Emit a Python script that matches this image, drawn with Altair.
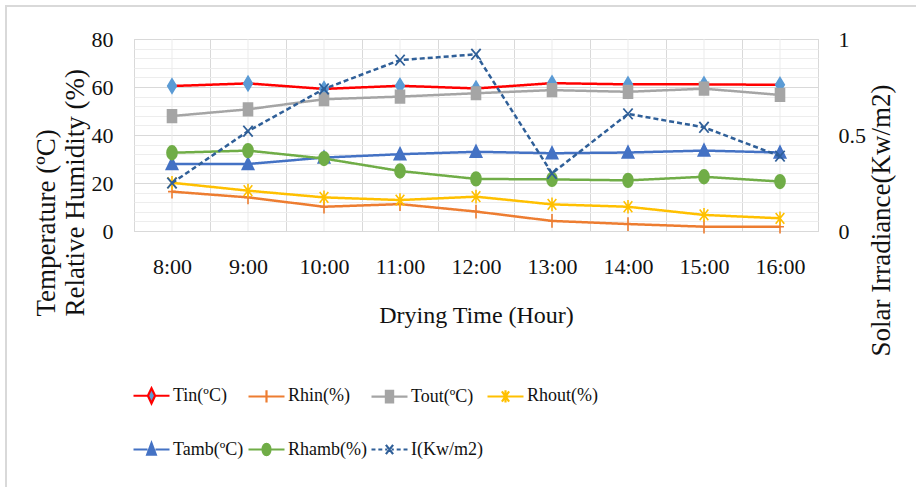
import altair as alt
import pandas as pd

# ---------------- data ----------------
times = ["8:00", "9:00", "10:00", "11:00", "12:00", "13:00", "14:00", "15:00", "16:00"]
series_names = ["Tin(ºC)", "Rhin(%)", "Tout(ºC)", "Rhout(%)", "Tamb(ºC)", "Rhamb(%)", "I(Kw/m2)"]

tin = [60.4, 61.5, 59.2, 60.5, 59.4, 61.6, 61.1, 61.1, 60.9]
rhin = [16.4, 14.0, 10.1, 11.2, 8.1, 4.2, 2.9, 1.8, 1.8]
tout = [47.9, 50.7, 54.9, 56.0, 57.4, 58.7, 58.0, 59.3, 56.7]
rhout = [20.1, 16.8, 14.0, 12.9, 14.3, 11.1, 10.1, 6.7, 5.3]
tamb = [27.9, 27.9, 30.6, 32.0, 33.0, 32.4, 32.7, 33.5, 32.7]
rhamb = [32.6, 33.5, 30.2, 25.0, 21.7, 21.5, 21.1, 22.6, 20.6]
irradiance = [0.25, 0.52, 0.74, 0.89, 0.92, 0.30, 0.61, 0.54, 0.39]

left_ticks = [0, 4, 8, 12, 16, 20, 24, 28, 32, 36, 40, 44, 48, 52, 56, 60, 64, 68, 72, 76, 80]
right_ticks = [0, 0.5, 1]

# ---------------- styles ----------------
line_colors = ["#FF0000", "#ED7D31", "#A5A5A5", "#FFC000", "#4472C4", "#70AD47", "#2F5F98"]
marker_colors = ["#5B9BD5", "#ED7D31", "#A5A5A5", "#FFC000", "#4472C4", "#70AD47", "#2F5F98"]
dashes = [[1, 0], [1, 0], [1, 0], [1, 0], [1, 0], [1, 0], [5, 3]]

# markers used on the plot (drawn at size 1296 -> 1 unit = 18 px)
marker_paths = [
    "M0,-0.4L0.24,0L0,0.4L-0.24,0Z",                          # diamond
    "M-0.22,0H0.22M0,-0.38V0.38",                             # plus
    "M-0.25,-0.35H0.25V0.35H-0.25Z",                          # square
    "M-0.24,-0.3L0.24,0.3M-0.24,0.3L0.24,-0.3M0,-0.38V0.38",  # asterisk
    "M0,-0.36L0.32,0.3H-0.32Z",                               # triangle
    "M-0.28,0A0.28,0.38 0 1,0 0.28,0A0.28,0.38 0 1,0 -0.28,0Z",  # circle
    "M-0.26,-0.3L0.26,0.3M-0.26,0.3L0.26,-0.3",               # x
]
# legend symbols: line segment + marker
solid_gap = "M-1,0H-0.22M0.22,0H1"
solid_full = "M-1,0H1"
dashed = "M-1,0H-0.78M-0.62,0H-0.4M-0.24,0H-0.12M0.12,0H0.24M0.4,0H0.62M0.78,0H1"
legend_paths = [
    solid_gap + "M0,-0.42L0.2,0L0,0.42L-0.2,0Z",
    solid_full + "M0,-0.34V0.34",
    solid_gap + "M-0.2,-0.32H0.2V0.32H-0.2Z",
    solid_full + "M-0.2,-0.28L0.2,0.28M-0.2,0.28L0.2,-0.28M0,-0.34V0.34",
    solid_gap + "M0,-0.36L0.24,0.28H-0.24Z",
    solid_gap + "M-0.22,0A0.22,0.32 0 1,0 0.22,0A0.22,0.32 0 1,0 -0.22,0Z",
    dashed + "M-0.2,-0.26L0.2,0.26M-0.2,0.26L0.2,-0.26",
]

FONT = "Liberation Serif"
TXT = "#111111"

values_by_series = [tin, rhin, tout, rhout, tamb, rhamb, irradiance]
rows = []
for name, vals in zip(series_names, values_by_series):
    for t, v in zip(times, vals):
        rows.append({"time": t, "series": name, "value": v,
                     "side": "right" if name == "I(Kw/m2)" else "left"})
df = pd.DataFrame(rows)
df_left = df[df.side == "left"]
df_right = df[df.side == "right"]

# ---------------- encodings ----------------
x_enc = alt.X(
    "time:N", bandPosition=0.5,
    scale=alt.Scale(type="band", domain=times, paddingInner=0, paddingOuter=0),
    axis=alt.Axis(title="Drying Time (Hour)", tickBand="extent", grid=True,
                  gridColor="#D9D9D9", gridWidth=1, ticks=False, tickSize=0,
                  domain=True, domainColor="#D9D9D9", labelAngle=0, labelPadding=25,
                  labelFontSize=22, labelFont=FONT, labelColor=TXT,
                  titleFontSize=24, titleFont=FONT, titleColor=TXT, titleFontWeight="normal",
                  titleY=84, titleBaseline="middle"),
)

y_left = alt.Y(
    "value:Q", scale=alt.Scale(domain=[0, 80], nice=False),
    axis=alt.Axis(values=left_ticks, labelExpr="datum.value % 20 === 0 ? datum.label : ''",
                  grid=True,
                  gridColor={"condition": {"test": "datum.value % 20 === 0", "value": "#D9D9D9"},
                             "value": "#EDEDED"},
                  ticks=False, tickSize=0, domain=False, labelPadding=21,
                  labelFontSize=22, labelFont=FONT, labelColor=TXT,
                  title=["Temperature (ºC)", "Relative Humidity (%)"],
                  titleFontSize=27, titleFont=FONT, titleColor=TXT, titleFontWeight="normal",
                  titleAngle=270, titleAlign="left", titleBaseline="top",
                  titleX=-101, titleY=277, titleLineHeight=29),
)

y_right = alt.Y(
    "value:Q", scale=alt.Scale(domain=[0, 1], nice=False),
    axis=alt.Axis(orient="right", values=right_ticks, format="~g", grid=False,
                  ticks=False, tickSize=0, domain=False, labelPadding=20,
                  labelFontSize=22, labelFont=FONT, labelColor=TXT,
                  title="Solar Irradiance(Kw/m2)",
                  titleFontSize=27, titleFont=FONT, titleColor=TXT, titleFontWeight="normal",
                  titleAngle=270, titleAlign="center", titleBaseline="top",
                  titleX=50, titleY=181),
)

color_enc = alt.Color("series:N", scale=alt.Scale(domain=series_names, range=line_colors),
                      legend=None)
dash_enc = alt.StrokeDash("series:N", scale=alt.Scale(domain=series_names, range=dashes),
                          legend=None)
fill_enc = alt.Fill("series:N", scale=alt.Scale(domain=series_names, range=marker_colors),
                    legend=None)
stroke_enc = alt.Stroke("series:N", scale=alt.Scale(domain=series_names, range=marker_colors),
                        legend=None)
shape_enc = alt.Shape("series:N", scale=alt.Scale(domain=series_names, range=marker_paths),
                      legend=None)

# ---------------- layers ----------------
center_grid = alt.Chart(pd.DataFrame({"time": times})).mark_rule(
    color="#EBEBEB", strokeWidth=1).encode(x=x_enc, y=alt.value(0), y2=alt.value(192))

frame_left = alt.Chart(alt.Data(values=[{"k": 1}])).mark_rule(
    color="#D9D9D9", strokeWidth=2).encode(x=alt.value(-128), y=alt.value(-33), y2=alt.value(448))
frame_top = alt.Chart(alt.Data(values=[{"k": 1}])).mark_rule(
    color="#D9D9D9", strokeWidth=2).encode(x=alt.value(-129), x2=alt.value(782), y=alt.value(-33))

lines_left = alt.Chart(df_left).mark_line(strokeWidth=2.5).encode(
    x=x_enc, y=y_left, color=color_enc, strokeDash=dash_enc, detail="series:N")
points_left = alt.Chart(df_left).mark_point(size=1296, strokeWidth=1.6, opacity=1, filled=True).encode(
    x=x_enc, y=y_left, fill=fill_enc, stroke=stroke_enc, shape=shape_enc)

lines_right = alt.Chart(df_right).mark_line(strokeWidth=2.5).encode(
    x=x_enc, y=y_right, color=color_enc, strokeDash=dash_enc, detail="series:N")
points_right = alt.Chart(df_right).mark_point(size=1296, strokeWidth=1.8, opacity=1, filled=True).encode(
    x=x_enc, y=y_right, fill=fill_enc, stroke=stroke_enc, shape=shape_enc)

# legend carrier: points placed outside the view and clipped; only its legend shows
legend_leg = alt.Legend(orient="none", legendX=-2, legendY=337, columns=4, direction="horizontal",
                        symbolSize=1296, symbolStrokeWidth=2.2,
                        labelFont=FONT, labelFontSize=18, labelColor=TXT, labelOffset=2,
                        columnPadding=0, rowPadding=22, padding=0, title=None, labelLimit=300)
legend_df = pd.DataFrame({"series": series_names})
legend_layer = alt.Chart(legend_df).mark_point(size=1296, strokeWidth=2.2, opacity=1,
                                               filled=True, clip=True).encode(
    x=alt.value(-2000), y=alt.value(-2000),
    fill=alt.Fill("series:N", scale=alt.Scale(domain=series_names, range=marker_colors),
                  legend=legend_leg),
    stroke=alt.Stroke("series:N", scale=alt.Scale(domain=series_names, range=line_colors),
                      legend=legend_leg),
    shape=alt.Shape("series:N", scale=alt.Scale(domain=series_names, range=legend_paths),
                    legend=legend_leg),
)

left = alt.layer(center_grid, frame_left, frame_top, lines_left, points_left)
right = alt.layer(lines_right, points_right)

chart = alt.layer(left, right, legend_layer).resolve_scale(
    y="independent", fill="independent", stroke="independent", shape="independent"
).properties(
    width=684, height=192,
    padding={"left": 134, "top": 39, "right": 98, "bottom": 256},
    autosize=alt.AutoSizeParams(type="none"),
    background="white",
).configure_view(stroke="#D9D9D9", strokeWidth=1)

chart.save("out.html", embed_options={"renderer": "svg", "actions": False})
